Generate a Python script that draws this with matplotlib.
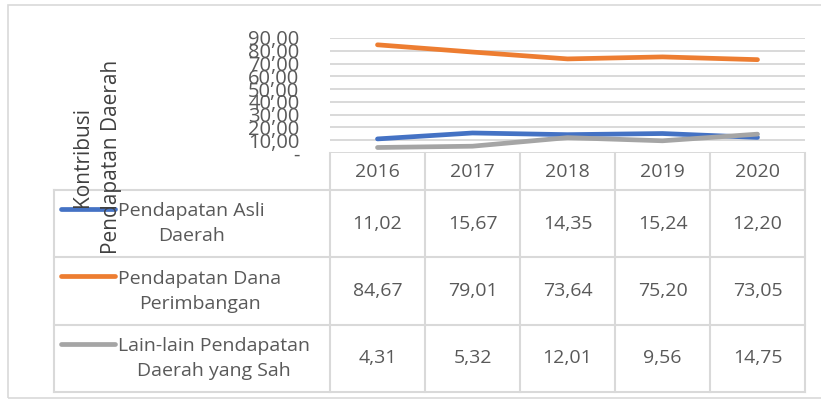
import matplotlib.pyplot as plt
from matplotlib.patches import Rectangle

years = ['2016', '2017', '2018', '2019', '2020']
series_names = ['Pendapatan Asli\nDaerah', 'Pendapatan Dana\nPerimbangan', 'Lain-lain Pendapatan\nDaerah yang Sah']
pad = [11.02, 15.67, 14.35, 15.24, 12.20]
dana = [84.67, 79.01, 73.64, 75.20, 73.05]
lain = [4.31, 5.32, 12.01, 9.56, 14.75]
colors = ['#4472C4', '#ED7D31', '#A5A5A5']
yticks = [0, 10, 20, 30, 40, 50, 60, 70, 80, 90]

plt.rcParams['font.family'] = ['Open Sans', 'DejaVu Sans']
W, H = 821, 401
txt = '#595959'
grid = '#d9d9d9'
fs = 14


def fx(px):
    return px / W


def fy(py):
    return 1 - py / H


fig = plt.figure(figsize=(W / 100, H / 100), dpi=100)

# outer chart border (cut off at right/bottom)
fig.patches.append(Rectangle((fx(8), fy(398)), 1, fy(9) - fy(398) + 0.01,
                             transform=fig.transFigure, fill=False,
                             edgecolor=grid, linewidth=1.2))

# plot area
ax = fig.add_axes([fx(330), fy(153), fx(805) - fx(330), fy(38) - fy(153)])
ax.set_xlim(-0.5, 4.5)
ax.set_ylim(0, 90)
for s in ax.spines.values():
    s.set_visible(False)
ax.set_yticks(yticks)
ax.set_yticklabels(['-' if v == 0 else f'{v},00' for v in yticks], color=txt, fontsize=fs + 0.5)
ax.tick_params(axis='y', length=0, pad=22)
ax.set_xticks([])
for v in yticks:
    ax.axhline(v, color=grid, linewidth=1.4, zorder=0)
x = list(range(len(years)))
for vals, c in zip([pad, dana, lain], colors):
    ax.plot(x, vals, color=c, linewidth=3.4, solid_capstyle='round', solid_joinstyle='round')

# data table
lab_w = (330 - 54) / 95
tax = fig.add_axes([fx(54), fy(392), fx(805) - fx(54), fy(153) - fy(392)])
tax.set_xlim(-0.5 - lab_w, 4.5)
tax.set_ylim(3, -0.55)
tax.axis('off')
lk = dict(color=grid, linewidth=1.5, clip_on=False)
for r in range(4):
    tax.plot([-0.5 - lab_w, 4.5], [r, r], **lk)
for c in range(6):
    tax.plot([c - 0.5, c - 0.5], [-0.55, 3], **lk)
tax.plot([-0.5 - lab_w] * 2, [0, 3], **lk)

for i, yr in enumerate(years):
    tax.text(i, -0.27, yr, ha='center', va='center', fontsize=fs, color=txt)

for r, (name, vals, c) in enumerate(zip(series_names, [pad, dana, lain], colors)):
    tax.plot([-0.5 - lab_w + 0.07, -0.5 - lab_w + 0.64], [r + 0.28, r + 0.28],
             color=c, linewidth=3.4, solid_capstyle='round', clip_on=False)
    tax.text(-0.5 - lab_w + 0.675, r + 0.5, name, ha='left', va='center',
             multialignment='center', fontsize=fs, color=txt, linespacing=1.5)
    for i, v in enumerate(vals):
        tax.text(i, r + 0.5, f'{v:.2f}'.replace('.', ','), ha='center', va='center',
                 fontsize=fs, color=txt)

# axis title, drawn over the table like the original
fig.text(fx(97), fy(157), 'Kontribusi\nPendapatan Daerah', rotation=90,
         ha='center', va='center', fontsize=15, color='#404040', linespacing=1.55)

fig.savefig('out.png', dpi=100)
